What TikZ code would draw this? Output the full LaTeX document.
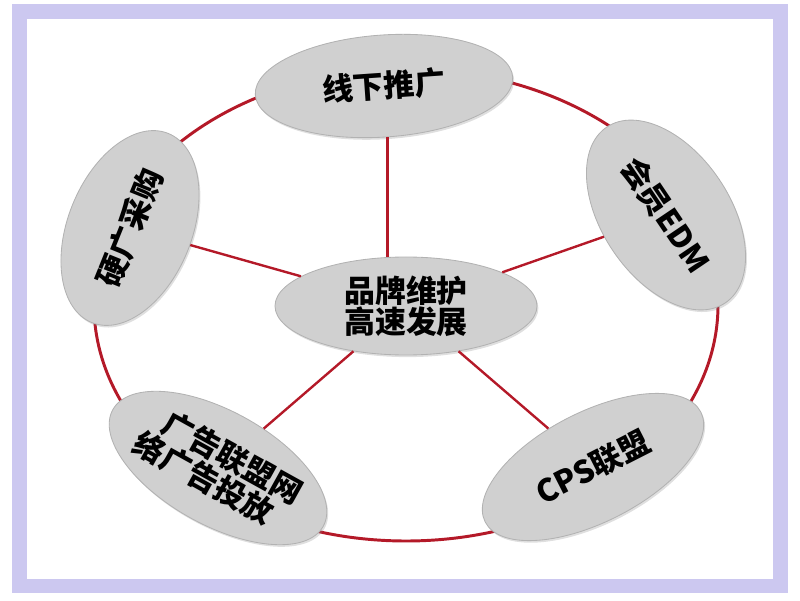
\documentclass[tikz,border=0pt]{standalone}
\usepackage{fontspec}
\usetikzlibrary{shapes, positioning, shadows}
\newfontfamily\cjk{Noto Sans CJK SC}
\definecolor{Ring}{RGB}{180, 25, 40}
\definecolor{Bubble}{RGB}{208, 208, 208}
\definecolor{Frame}{RGB}{204, 200, 240}
\tikzset{
  bubble/.style={ellipse, fill=Bubble, draw=gray!60, line width=0.6pt, inner sep=0pt,
    align=center, font=\cjk\bfseries\fontsize{22}{20.5}\selectfont,
    drop shadow={opacity=0.25, shadow xshift=1pt, shadow yshift=-1.5pt}},
  spoke/.style={Ring, line width=1.7pt}
}

\begin{document}
\begin{tikzpicture}
        \useasboundingbox (0, 0) rectangle (20, 15);
        % Frame
        \draw[Frame, line width=0.36cm] (0.49, 0.35) rectangle (19.51, 14.71);

        % Ring
        \coordinate (ringc) at (10.15, 7.375);
        \draw[Ring, line width=2.1pt] (ringc) ellipse [x radius=7.8, y radius=5.9];

        % Hub
        \node[bubble, minimum width=6.55cm, minimum height=2.45cm] (hub) at (10.15, 7.35) {品牌维护\\高速发展};

        % Outer bubbles
        \node[bubble, minimum width=6.45cm, minimum height=2.55cm, rotate=4] (offline) at (9.6, 12.85) {线下推广};
        \node[bubble, minimum width=5.1cm, minimum height=3.1cm, rotate=68] (hardad) at (3.25, 9.3) {硬广采购};
        \node[bubble, minimum width=5.3cm, minimum height=3.2cm, rotate=-56] (edm) at (16.65, 9.625) {会员EDM};
        \node[bubble, minimum width=6.05cm, minimum height=2.75cm, rotate=27] (cps) at (14.825, 3.325) {CPS联盟};
        \node[bubble, minimum width=5.95cm, minimum height=2.85cm, rotate=-29, align=left] (netad) at (5.45, 3.3) {\hspace*{0.5em}广告联盟网\\络广告投放};

        % Spokes
        \draw[spoke] (offline.south) -- (offline.south |- hub.north);
        \draw[spoke] (hub) -- (hardad);
        \draw[spoke] (hub) -- (edm);
        \draw[spoke] (hub) -- (cps);
        \draw[spoke] (hub) -- (netad);
    \end{tikzpicture}
\end{document}
